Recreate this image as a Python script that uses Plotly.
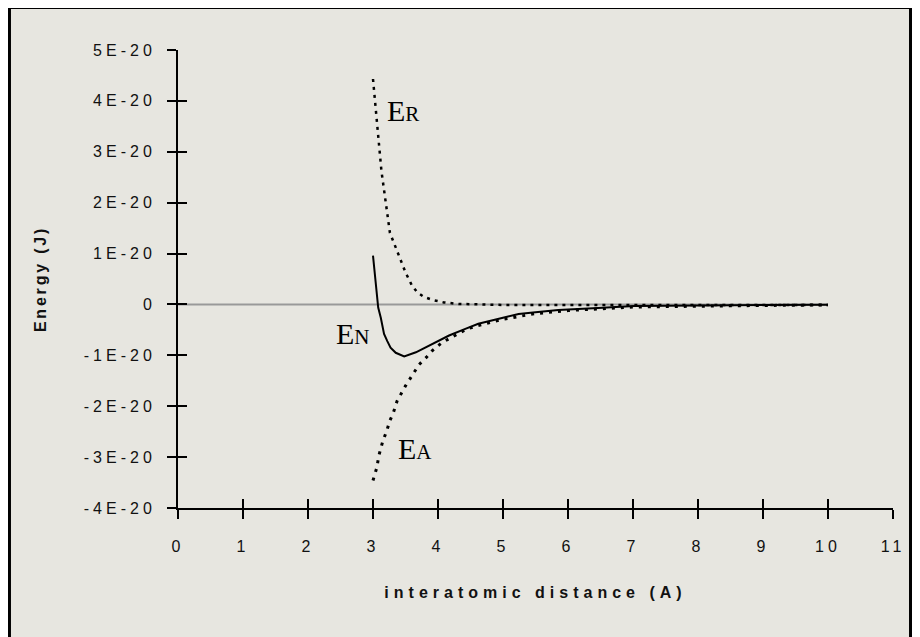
import plotly.graph_objects as go

# ---- data ----
x_er = [3.0, 3.13, 3.26, 3.30, 3.37, 3.43, 3.50, 3.60, 3.68, 3.78, 3.91, 4.09, 4.32, 5.0, 6.0, 7.0, 8.0, 9.0, 10.0]
y_er = [4.43e-20, 2.62e-20, 1.41e-20, 1.28e-20, 1.05e-20, 0.89e-20, 0.63e-20, 0.37e-20, 0.24e-20,
        0.15e-20, 0.09e-20, 0.04e-20, 0.01e-20, -0.01e-20, -0.01e-20, -0.01e-20, -0.01e-20, -0.01e-20, -0.01e-20]

x_en = [3.0, 3.08, 3.12, 3.17, 3.22, 3.27, 3.35, 3.48, 3.66, 3.91, 4.17, 4.42, 4.62, 5.0, 5.24, 5.5, 5.85, 6.46, 7.02, 8.0, 9.0, 10.0]
y_en = [0.96e-20, -0.06e-20, -0.26e-20, -0.58e-20, -0.72e-20, -0.85e-20, -0.95e-20, -1.02e-20, -0.94e-20,
        -0.78e-20, -0.61e-20, -0.48e-20, -0.38e-20, -0.26e-20, -0.19e-20, -0.155e-20, -0.11e-20, -0.07e-20,
        -0.03e-20, -0.02e-20, -0.015e-20, -0.005e-20]

x_ea = [3.0, 3.06, 3.09, 3.15, 3.21, 3.26, 3.31, 3.37, 3.50, 3.60, 3.71, 3.82, 3.91, 4.06, 4.27, 4.45, 4.60,
        5.0, 5.5, 6.0, 7.0, 8.0, 9.0, 10.0]
y_ea = [-3.46e-20, -3.2e-20, -2.97e-20, -2.69e-20, -2.49e-20, -2.28e-20, -2.14e-20, -1.90e-20, -1.60e-20,
        -1.40e-20, -1.18e-20, -1.04e-20, -0.91e-20, -0.75e-20, -0.61e-20, -0.48e-20, -0.42e-20,
        -0.29e-20, -0.18e-20, -0.12e-20, -0.05e-20, -0.03e-20, -0.02e-20, -0.01e-20]

x_zero = [0, 10]
y_zero = [0, 0]

x_ticks = list(range(0, 12))
x_ticklabels = [str(v) for v in x_ticks]
y_ticks = [5e-20, 4e-20, 3e-20, 2e-20, 1e-20, 0, -1e-20, -2e-20, -3e-20, -4e-20]
y_ticklabels = ["5E-20", "4E-20", "3E-20", "2E-20", "1E-20", "0", "-1E-20", "-2E-20", "-3E-20", "-4E-20"]

labels = ["E<span style='font-size:21px'>R</span>",
          "E<span style='font-size:21px'>N</span>",
          "E<span style='font-size:21px'>A</span>"]
label_x = [3.19, 2.40, 3.36]
label_y = [3.82e-20, -0.57e-20, -2.84e-20]

BG = "#e7e6e0"
SANS = "Liberation Sans, Arial, sans-serif"
SERIF = "Liberation Serif, Times New Roman, serif"


def spaced(t, px):
    return f"<span style='letter-spacing:{px}px'>{t}</span>"


fig = go.Figure()
fig.add_trace(go.Scatter(x=x_zero, y=y_zero, mode="lines",
                         line=dict(color="#999999", width=2), hoverinfo="skip"))
fig.add_trace(go.Scatter(x=x_er, y=y_er, mode="lines",
                         line=dict(color="black", width=2.5, dash="3px,5px")))
fig.add_trace(go.Scatter(x=x_ea, y=y_ea, mode="lines",
                         line=dict(color="black", width=3, dash="3px,6px")))
fig.add_trace(go.Scatter(x=x_en, y=y_en, mode="lines",
                         line=dict(color="black", width=2)))
# invisible trace on the overlay axes so their inner tick halves are drawn
fig.add_trace(go.Scatter(x=x_zero, y=y_zero, xaxis="x2", yaxis="y2", mode="lines",
                         line=dict(color="rgba(0,0,0,0)", width=0), hoverinfo="skip"))

axis_common = dict(showgrid=False, zeroline=False, ticks="outside", ticklen=9,
                   tickwidth=2, tickcolor="black", showline=True, linecolor="black",
                   linewidth=2, tickfont=dict(family=SANS, size=16, color="#111111"))

fig.update_layout(
    width=912, height=629,
    margin=dict(l=170, r=27, t=42, b=129),
    paper_bgcolor="white", plot_bgcolor="rgba(0,0,0,0)",
    showlegend=False,
    xaxis=dict(range=[0, 11], tickmode="array", tickvals=x_ticks,
               ticktext=[spaced(t, 4) for t in x_ticklabels],
               ticklabelstandoff=14,
               title=dict(text=spaced("<b>interatomic distance (A)</b>", 5),
                          font=dict(family=SANS, size=16, color="#111111"), standoff=33),
               **axis_common),
    yaxis=dict(range=[-4e-20, 5e-20], tickmode="array", tickvals=y_ticks,
               ticktext=[spaced(t, 4) for t in y_ticklabels],
               ticklabelstandoff=8,
               title=dict(text=spaced("<b>Energy (J)</b>", 2.8),
                          font=dict(family=SANS, size=16, color="#111111"), standoff=33),
               **axis_common),
    xaxis2=dict(range=[0, 11], overlaying="x", anchor="y", side="bottom",
                tickmode="array", tickvals=x_ticks, showticklabels=False,
                ticks="inside", ticklen=9, tickwidth=2, tickcolor="black",
                showgrid=False, zeroline=False, showline=False),
    yaxis2=dict(range=[-4e-20, 5e-20], overlaying="y", anchor="x", side="left",
                tickmode="array", tickvals=y_ticks, showticklabels=False,
                ticks="inside", ticklen=9, tickwidth=2, tickcolor="black",
                showgrid=False, zeroline=False, showline=False),
)

fig.add_shape(type="rect", xref="paper", yref="paper",
              x0=-0.2357, x1=1.0245, y0=-0.32, y1=1.0928,
              line=dict(color="black", width=3), fillcolor=BG, layer="below")

for t, lx, ly in zip(labels, label_x, label_y):
    fig.add_annotation(x=lx, y=ly, xref="x", yref="y", text=t, showarrow=False,
                       xanchor="left", yanchor="middle",
                       font=dict(family=SERIF, size=30, color="black"))

fig.write_html("out.html")
